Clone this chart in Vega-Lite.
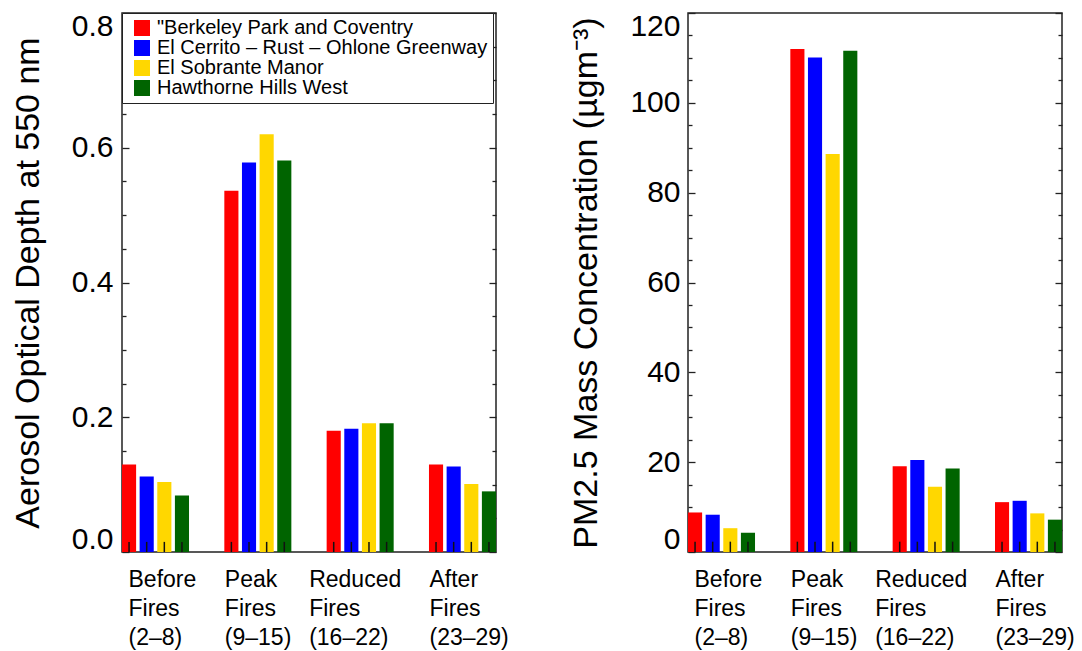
{
  "$schema": "https://vega.github.io/schema/vega-lite/v6.json",
  "padding": {"left": 10, "top": 10, "right": 0, "bottom": 0},
  "background": "white",
  "config": {
    "font": "Liberation Sans",
    "view": {"stroke": "#222222", "strokeWidth": 1.5},
    "axis": {"grid": false, "domain": false, "labelColor": "black", "titleColor": "black", "tickColor": "#222222", "tickWidth": 1.3, "labelFont": "Liberation Sans", "titleFont": "Liberation Sans", "titleFontWeight": "normal"}
  },
  "datasets": {
    "d": [
      {"period": "Before Fires (2–8)", "site": "\"Berkeley Park and Coventry", "aod": 0.130, "pm": 8.8},
      {"period": "Before Fires (2–8)", "site": "El Cerrito – Rust – Ohlone Greenway", "aod": 0.112, "pm": 8.3},
      {"period": "Before Fires (2–8)", "site": "El Sobrante Manor", "aod": 0.104, "pm": 5.3},
      {"period": "Before Fires (2–8)", "site": "Hawthorne Hills West", "aod": 0.084, "pm": 4.3},
      {"period": "Peak Fires (9–15)", "site": "\"Berkeley Park and Coventry", "aod": 0.536, "pm": 112.0},
      {"period": "Peak Fires (9–15)", "site": "El Cerrito – Rust – Ohlone Greenway", "aod": 0.578, "pm": 110.1},
      {"period": "Peak Fires (9–15)", "site": "El Sobrante Manor", "aod": 0.620, "pm": 88.6},
      {"period": "Peak Fires (9–15)", "site": "Hawthorne Hills West", "aod": 0.581, "pm": 111.6},
      {"period": "Reduced Fires (16–22)", "site": "\"Berkeley Park and Coventry", "aod": 0.180, "pm": 19.1},
      {"period": "Reduced Fires (16–22)", "site": "El Cerrito – Rust – Ohlone Greenway", "aod": 0.183, "pm": 20.5},
      {"period": "Reduced Fires (16–22)", "site": "El Sobrante Manor", "aod": 0.191, "pm": 14.5},
      {"period": "Reduced Fires (16–22)", "site": "Hawthorne Hills West", "aod": 0.191, "pm": 18.6},
      {"period": "After Fires (23–29)", "site": "\"Berkeley Park and Coventry", "aod": 0.130, "pm": 11.1},
      {"period": "After Fires (23–29)", "site": "El Cerrito – Rust – Ohlone Greenway", "aod": 0.127, "pm": 11.4},
      {"period": "After Fires (23–29)", "site": "El Sobrante Manor", "aod": 0.101, "pm": 8.6},
      {"period": "After Fires (23–29)", "site": "Hawthorne Hills West", "aod": 0.090, "pm": 7.2}
    ]
  },
  "spacing": 59,
  "resolve": {"scale": {"color": "independent"}, "legend": {"color": "independent"}},
  "hconcat": [
    {
      "width": 374,
      "height": 539,
      "data": {"name": "d"},
      "resolve": {"axis": {"y": "independent"}},
      "encoding": {
        "x": {"field": "period", "type": "nominal", "sort": ["Before Fires (2–8)", "Peak Fires (9–15)", "Reduced Fires (16–22)", "After Fires (23–29)"], "scale": {"paddingInner": 0.345, "paddingOuter": 0},
          "axis": {"title": null, "labelAngle": 0, "ticks": false, "labelExpr": "split(datum.label, ' ')", "labelAlign": "left", "labelBaseline": "top", "labelOffset": {"expr": "datum.value == 'Reduced Fires (16–22)' ? -51 : datum.value == 'Before Fires (2–8)' ? -27 : -33"}, "labelPadding": 16, "labelFontSize": 23, "labelLineHeight": 29, "labelLimit": 0, "labelOverlap": false}},
        "xOffset": {"field": "site", "type": "nominal", "sort": ["\"Berkeley Park and Coventry", "El Cerrito – Rust – Ohlone Greenway", "El Sobrante Manor", "Hawthorne Hills West"], "scale": {"paddingInner": 0.2, "paddingOuter": 0}}
      },
      "layer": [
        {
          "mark": {"type": "bar"},
          "encoding": {
            "y": {"field": "aod", "type": "quantitative", "scale": {"domain": [0, 0.8], "nice": false, "zero": true},
              "axis": {"orient": "left", "values": [0, 0.2, 0.4, 0.6, 0.8], "format": ".1f", "ticks": false, "labelPadding": 9, "labelFontSize": 30, "labelFlush": true, "labelFlushOffset": 2, "title": "Aerosol Optical Depth at 550 nm", "titleFontSize": 34, "titlePadding": 26}},
            "color": {"field": "site", "type": "nominal",
              "scale": {"domain": ["\"Berkeley Park and Coventry", "El Cerrito – Rust – Ohlone Greenway", "El Sobrante Manor", "Hawthorne Hills West"], "range": ["#ff0000", "#0000ff", "#ffd700", "#006400"]},
              "legend": {"title": null, "orient": "top-left", "offset": 0, "padding": 5, "strokeColor": "#222222", "fillColor": "white", "symbolType": "square", "symbolSize": 256, "symbolStrokeWidth": 0, "symbolOffset": 5, "labelOffset": 5, "labelFontSize": 20, "labelLimit": 0, "rowPadding": 0, "labelColor": "black", "labelFont": "Liberation Sans"}}
          }
        },
        {
          "mark": {"type": "bar", "width": 1.5, "color": "#111111"},
          "encoding": {
            "y": {"datum": 0, "type": "quantitative", "axis": null},
            "y2": {"datum": 0.015}
          }
        },
        {
          "mark": {"type": "bar", "opacity": 0},
          "encoding": {"y": {"field": "aod", "type": "quantitative", "axis": {"orient": "left", "values": [0, 0.2, 0.4, 0.6, 0.8], "labels": false, "tickSize": -7, "title": null}}}
        },
        {
          "mark": {"type": "bar", "opacity": 0},
          "encoding": {"y": {"field": "aod", "type": "quantitative", "axis": {"orient": "left", "values": [0.05, 0.1, 0.15, 0.25, 0.3, 0.35, 0.45, 0.5, 0.55, 0.65, 0.7, 0.75], "labels": false, "tickSize": -4, "title": null}}}
        },
        {
          "mark": {"type": "bar", "opacity": 0},
          "encoding": {"y": {"field": "aod", "type": "quantitative", "axis": {"orient": "right", "values": [0, 0.2, 0.4, 0.6, 0.8], "labels": false, "tickSize": -7, "title": null}}}
        },
        {
          "mark": {"type": "bar", "opacity": 0},
          "encoding": {"y": {"field": "aod", "type": "quantitative", "axis": {"orient": "right", "values": [0.05, 0.1, 0.15, 0.25, 0.3, 0.35, 0.45, 0.5, 0.55, 0.65, 0.7, 0.75], "labels": false, "tickSize": -4, "title": null}}}
        }
      ]
    },
    {
      "width": 374,
      "height": 539,
      "data": {"name": "d"},
      "resolve": {"axis": {"y": "independent"}},
      "encoding": {
        "x": {"field": "period", "type": "nominal", "sort": ["Before Fires (2–8)", "Peak Fires (9–15)", "Reduced Fires (16–22)", "After Fires (23–29)"], "scale": {"paddingInner": 0.345, "paddingOuter": 0},
          "axis": {"title": null, "labelAngle": 0, "ticks": false, "labelExpr": "split(datum.label, ' ')", "labelAlign": "left", "labelBaseline": "top", "labelOffset": {"expr": "datum.value == 'Reduced Fires (16–22)' ? -51 : datum.value == 'Before Fires (2–8)' ? -27 : -33"}, "labelPadding": 16, "labelFontSize": 23, "labelLineHeight": 29, "labelLimit": 0, "labelOverlap": false}},
        "xOffset": {"field": "site", "type": "nominal", "sort": ["\"Berkeley Park and Coventry", "El Cerrito – Rust – Ohlone Greenway", "El Sobrante Manor", "Hawthorne Hills West"], "scale": {"paddingInner": 0.2, "paddingOuter": 0}}
      },
      "layer": [
        {
          "mark": {"type": "bar"},
          "encoding": {
            "y": {"field": "pm", "type": "quantitative", "scale": {"domain": [0, 120], "nice": false, "zero": true},
              "axis": {"orient": "left", "values": [0, 20, 40, 60, 80, 100, 120], "ticks": false, "labelPadding": 8, "labelFontSize": 30, "labelFlush": true, "labelFlushOffset": 2, "title": "PM2.5 Mass Concentration (µgm⁻³)", "titleFontSize": 34, "titlePadding": 26}},
            "color": {"field": "site", "type": "nominal",
              "scale": {"domain": ["\"Berkeley Park and Coventry", "El Cerrito – Rust – Ohlone Greenway", "El Sobrante Manor", "Hawthorne Hills West"], "range": ["#ff0000", "#0000ff", "#ffd700", "#006400"]},
              "legend": null}
          }
        },
        {
          "mark": {"type": "bar", "width": 1.5, "color": "#111111"},
          "encoding": {
            "y": {"datum": 0, "type": "quantitative", "axis": null},
            "y2": {"datum": 2.3}
          }
        },
        {
          "mark": {"type": "bar", "opacity": 0},
          "encoding": {"y": {"field": "pm", "type": "quantitative", "axis": {"orient": "left", "values": [0, 20, 40, 60, 80, 100, 120], "labels": false, "tickSize": -7, "title": null}}}
        },
        {
          "mark": {"type": "bar", "opacity": 0},
          "encoding": {"y": {"field": "pm", "type": "quantitative", "axis": {"orient": "left", "values": [5, 10, 15, 25, 30, 35, 45, 50, 55, 65, 70, 75, 85, 90, 95, 105, 110, 115], "labels": false, "tickSize": -4, "title": null}}}
        },
        {
          "mark": {"type": "bar", "opacity": 0},
          "encoding": {"y": {"field": "pm", "type": "quantitative", "axis": {"orient": "right", "values": [0, 20, 40, 60, 80, 100, 120], "labels": false, "tickSize": -7, "title": null}}}
        },
        {
          "mark": {"type": "bar", "opacity": 0},
          "encoding": {"y": {"field": "pm", "type": "quantitative", "axis": {"orient": "right", "values": [5, 10, 15, 25, 30, 35, 45, 50, 55, 65, 70, 75, 85, 90, 95, 105, 110, 115], "labels": false, "tickSize": -4, "title": null}}}
        }
      ]
    }
  ]
}
